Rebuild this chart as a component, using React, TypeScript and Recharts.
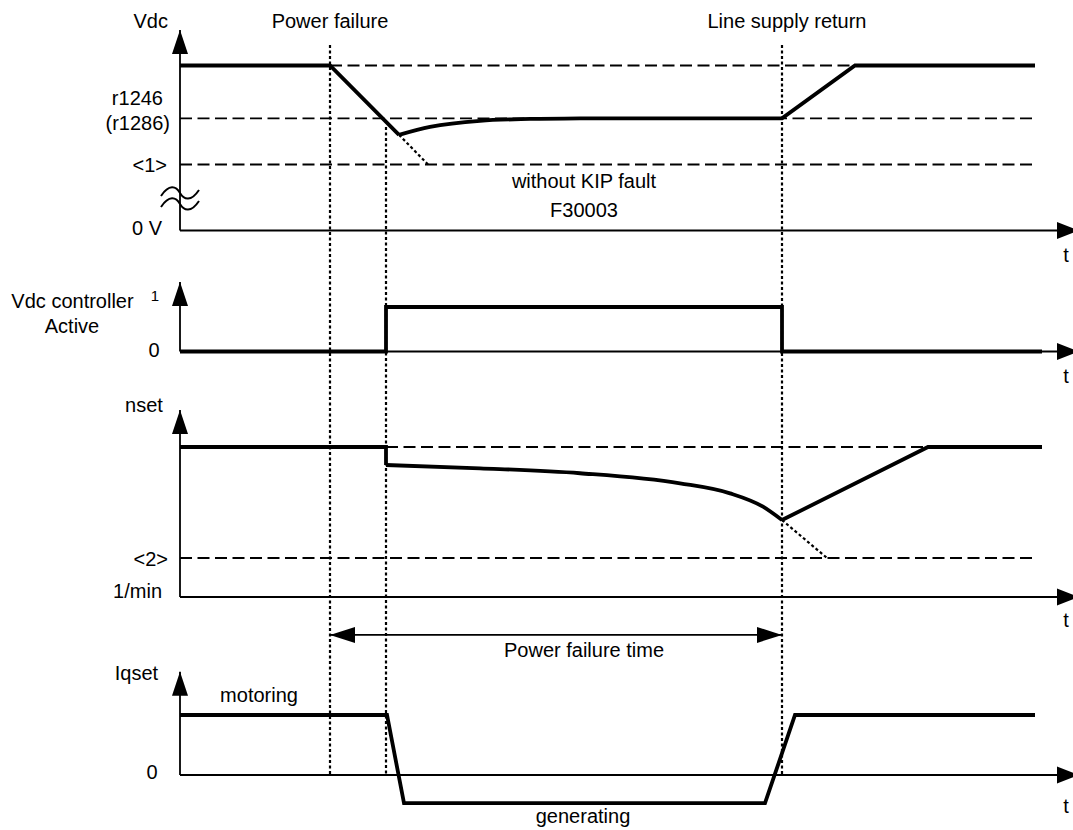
import React from 'react';
import { ComposedChart, Line, XAxis, YAxis, ReferenceLine, ReferenceDot } from 'recharts';

const WIDTH = 1073;
const HEIGHT = 830;
const FONT = '"Liberation Sans", Arial, Helvetica, sans-serif';

// ---------- time marks (schematic seconds) ----------
const T_FAIL = 1.5; // power failure
const T_CTRL = 2.06; // Vdc controller switches on
const T_RETURN = 6.02; // line supply return
const T_AXIS_END = 8.77; // start of the time-axis arrowheads
const X_DOMAIN: [number, number] = [-1.8, 8.93];

// ---------- panel 1: Vdc (% of nominal) ----------
const vdcFall = [
  { t: 0, v: 100 },
  { t: 1.5, v: 100 },
  { t: 2.19, v: 58 },
];
const vdcRecovery = [
  { t: 2.19, v: 58 },
  { t: 2.5, v: 62.8 },
  { t: 3.0, v: 66.5 },
  { t: 3.5, v: 67.6 },
  { t: 4.0, v: 68 },
];
const vdcReturn = [
  { t: 4.0, v: 68 },
  { t: 6.02, v: 68 },
  { t: 6.75, v: 100 },
  { t: 8.55, v: 100 },
];
const vdcWithoutKip = [
  { t: 2.19, v: 58 },
  { t: 2.48, v: 40 },
];
const vdcNominalLevel = [
  { t: 1.5, v: 100 },
  { t: 6.75, v: 100 },
];
const vdcR1246Level = [
  { t: 0, v: 68 },
  { t: 8.53, v: 68 },
];
const vdcLimit1Level = [
  { t: 0, v: 40 },
  { t: 8.53, v: 40 },
];

// ---------- panel 2: Vdc controller active (0/1) ----------
const ctrlActive = [
  { t: 0, v: 0 },
  { t: 2.06, v: 0 },
  { t: 2.06, v: 1 },
  { t: 6.02, v: 1 },
  { t: 6.02, v: 0 },
  { t: 8.62, v: 0 },
];

// ---------- panel 3: nset (% of setpoint) ----------
const nsetHold = [
  { t: 0, v: 100 },
  { t: 2.06, v: 100 },
  { t: 2.06, v: 88 },
];
const nsetDecay = [
  { t: 2.06, v: 88 },
  { t: 3.0, v: 85.8 },
  { t: 4.0, v: 82.5 },
  { t: 5.0, v: 75.8 },
  { t: 5.5, v: 69.1 },
  { t: 5.83, v: 60.2 },
  { t: 6.02, v: 51.3 },
];
const nsetRamp = [
  { t: 6.02, v: 51.3 },
  { t: 7.48, v: 100 },
  { t: 8.62, v: 100 },
];
const nsetWithoutKip = [
  { t: 6.02, v: 51.3 },
  { t: 6.47, v: 26 },
];
const nsetSetpointLevel = [
  { t: 2.06, v: 100 },
  { t: 7.48, v: 100 },
];
const nsetLimit2Level = [
  { t: 0, v: 26 },
  { t: 8.53, v: 26 },
];

// ---------- panel 4: Iqset (motoring = 1) ----------
const iqSet = [
  { t: 0, v: 1 },
  { t: 2.07, v: 1 },
  { t: 2.24, v: -0.47 },
  { t: 5.85, v: -0.47 },
  { t: 6.15, v: 1 },
  { t: 8.55, v: 1 },
];

// ---------- texts ----------
const EVENT_LABELS = ['Power failure', 'Line supply return'];
const VDC_LABELS = ['Vdc', 'r1246', '(r1286)', '<1>', '0 V'];
const VDC_NOTE = ['without KIP fault', 'F30003'];
const CTRL_LABELS = ['Vdc controller', 'Active', '1', '0'];
const NSET_LABELS = ['nset', '<2>', '1/min'];
const SPAN_LABEL = 'Power failure time';
const IQ_LABELS = ['Iqset', 'motoring', '0', 'generating'];
const TIME_LABEL = 't';

// ---------- layout (pixel baseline & pixels per unit of each panel) ----------
type PanelKey = 'vdc' | 'ctrl' | 'nset' | 'iq';
const PANELS: Record<PanelKey, { zero: number; unit: number; top: number }> = {
  vdc: { zero: 230.5, unit: 1.65, top: 121.5 },
  ctrl: { zero: 351.5, unit: 44.5, top: 1.56 },
  nset: { zero: 597, unit: 1.5, top: 124.7 },
  iq: { zero: 775, unit: 60, top: 1.72 },
};
const PANEL_KEYS: PanelKey[] = ['vdc', 'ctrl', 'nset', 'iq'];
const domainOf = (k: PanelKey): [number, number] => [
  (PANELS[k].zero - HEIGHT) / PANELS[k].unit,
  PANELS[k].zero / PANELS[k].unit,
];
const convert = (from: PanelKey, v: number, to: PanelKey) =>
  (PANELS[to].zero - (PANELS[from].zero - v * PANELS[from].unit)) / PANELS[to].unit;

type Note = { text: string; axis: PanelKey; t: number; v: number; anchor: 'start' | 'middle' | 'end'; size?: number };
const NOTES: Note[] = [
  { text: VDC_LABELS[0], axis: 'vdc', t: -0.12, v: 122.7, anchor: 'end' },
  { text: EVENT_LABELS[0], axis: 'vdc', t: 1.5, v: 122.7, anchor: 'middle' },
  { text: EVENT_LABELS[1], axis: 'vdc', t: 6.07, v: 122.7, anchor: 'middle' },
  { text: VDC_LABELS[1], axis: 'vdc', t: -0.17, v: 76.1, anchor: 'end' },
  { text: VDC_LABELS[2], axis: 'vdc', t: -0.1, v: 60.9, anchor: 'end' },
  { text: VDC_LABELS[3], axis: 'vdc', t: -0.13, v: 35.5, anchor: 'end' },
  { text: VDC_LABELS[4], axis: 'vdc', t: -0.18, v: -2.7, anchor: 'end' },
  { text: VDC_NOTE[0], axis: 'vdc', t: 4.04, v: 25.8, anchor: 'middle' },
  { text: VDC_NOTE[1], axis: 'vdc', t: 4.04, v: 8.2, anchor: 'middle' },
  { text: TIME_LABEL, axis: 'vdc', t: 8.86, v: -19.1, anchor: 'middle' },

  { text: CTRL_LABELS[0], axis: 'ctrl', t: -1.075, v: 0.98, anchor: 'middle' },
  { text: CTRL_LABELS[1], axis: 'ctrl', t: -1.08, v: 0.42, anchor: 'middle' },
  { text: CTRL_LABELS[2], axis: 'ctrl', t: -0.25, v: 1.13, anchor: 'middle', size: 15 },
  { text: CTRL_LABELS[3], axis: 'ctrl', t: -0.26, v: -0.12, anchor: 'middle' },
  { text: TIME_LABEL, axis: 'ctrl', t: 8.86, v: -0.71, anchor: 'middle' },

  { text: NSET_LABELS[0], axis: 'nset', t: -0.36, v: 123.3, anchor: 'middle' },
  { text: NSET_LABELS[1], axis: 'nset', t: -0.12, v: 20.7, anchor: 'end' },
  { text: NSET_LABELS[2], axis: 'nset', t: -0.18, v: -0.7, anchor: 'end' },
  { text: SPAN_LABEL, axis: 'nset', t: 4.04, v: -40, anchor: 'middle' },
  { text: TIME_LABEL, axis: 'nset', t: 8.86, v: -20, anchor: 'middle' },

  { text: IQ_LABELS[0], axis: 'iq', t: -0.435, v: 1.58, anchor: 'middle' },
  { text: IQ_LABELS[1], axis: 'iq', t: 0.79, v: 1.22, anchor: 'middle' },
  { text: IQ_LABELS[2], axis: 'iq', t: -0.28, v: -0.06, anchor: 'middle' },
  { text: IQ_LABELS[3], axis: 'iq', t: 4.03, v: -0.8, anchor: 'middle' },
  { text: TIME_LABEL, axis: 'iq', t: 8.86, v: -0.63, anchor: 'middle' },
];

const THICK = 3.8;
const THIN = 1.8;
const DASH = '12 5.5';
const DOTS = '3 2.5';

const upArrow = (p: any) => (
  <polygon points={`${p.cx},${p.cy} ${p.cx - 8},${p.cy + 24} ${p.cx + 8},${p.cy + 24}`} fill="#000" />
);
const rightArrowFromBase = (p: any) => (
  <polygon points={`${p.cx},${p.cy - 8.5} ${p.cx + 22},${p.cy} ${p.cx},${p.cy + 8.5}`} fill="#000" />
);
const leftTip = (p: any) => (
  <polygon points={`${p.cx},${p.cy} ${p.cx + 25},${p.cy - 8} ${p.cx + 25},${p.cy + 8}`} fill="#000" />
);
const rightTip = (p: any) => (
  <polygon points={`${p.cx},${p.cy} ${p.cx - 25},${p.cy - 8} ${p.cx - 25},${p.cy + 8}`} fill="#000" />
);
const breakMark = (p: any) => {
  const wave = (cy: number) =>
    `M ${p.cx - 19} ${cy + 3} C ${p.cx - 11} ${cy - 9}, ${p.cx - 4} ${cy - 7}, ${p.cx} ${cy} S ${p.cx + 11} ${cy + 9}, ${p.cx + 19} ${cy - 3}`;
  return (
    <g fill="none" stroke="#000" strokeWidth={2}>
      <path d={wave(p.cy - 5.5)} />
      <path d={wave(p.cy + 5.5)} />
    </g>
  );
};
const textShape = (n: Note) => (p: any) => (
  <text
    x={p.cx}
    y={p.cy}
    textAnchor={n.anchor}
    fontFamily={FONT}
    fontSize={n.size ?? 20}
    fill="#000"
  >
    {n.text}
  </text>
);

const lineProps = {
  type: 'linear' as const,
  dataKey: 'v',
  stroke: '#000',
  dot: false,
  activeDot: false,
  isAnimationActive: false,
  legendType: 'none' as const,
};

export default function App() {
  return (
    <div style={{ position: 'absolute', left: 0, top: 0, width: WIDTH, height: HEIGHT, background: '#fff' }}>
      <ComposedChart width={WIDTH} height={HEIGHT} margin={{ top: 0, right: 0, bottom: 0, left: 0 }}>
        <XAxis type="number" dataKey="t" domain={X_DOMAIN} allowDataOverflow hide />
        {PANEL_KEYS.map((k) => (
          <YAxis key={k} yAxisId={k} type="number" domain={domainOf(k)} allowDataOverflow hide />
        ))}

        {/* axes */}
        {PANEL_KEYS.map((k) => (
          <ReferenceLine
            key={`ya-${k}`}
            yAxisId={k}
            segment={[{ x: 0, y: 0 }, { x: 0, y: PANELS[k].top }]}
            stroke="#000"
            strokeWidth={THIN}
          />
        ))}
        {PANEL_KEYS.map((k) => (
          <ReferenceLine
            key={`xa-${k}`}
            yAxisId={k}
            segment={[{ x: 0, y: 0 }, { x: T_AXIS_END, y: 0 }]}
            stroke="#000"
            strokeWidth={THIN}
          />
        ))}
        {PANEL_KEYS.map((k) => (
          <ReferenceDot key={`yh-${k}`} yAxisId={k} x={0} y={PANELS[k].top} r={0} shape={upArrow} />
        ))}
        {PANEL_KEYS.map((k) => (
          <ReferenceDot key={`xh-${k}`} yAxisId={k} x={T_AXIS_END} y={0} r={0} shape={rightArrowFromBase} />
        ))}
        <ReferenceDot yAxisId="vdc" x={0} y={19.4} r={0} shape={breakMark} />

        {/* event markers */}
        <ReferenceLine
          yAxisId="iq"
          segment={[{ x: T_FAIL, y: convert('vdc', 112.4, 'iq') }, { x: T_FAIL, y: 0 }]}
          stroke="#000"
          strokeWidth={2.2}
          strokeDasharray={DOTS}
        />
        <ReferenceLine
          yAxisId="iq"
          segment={[{ x: T_CTRL, y: convert('vdc', 62.7, 'iq') }, { x: T_CTRL, y: 0 }]}
          stroke="#000"
          strokeWidth={2.2}
          strokeDasharray={DOTS}
        />
        <ReferenceLine
          yAxisId="iq"
          segment={[{ x: T_RETURN, y: convert('vdc', 112.4, 'iq') }, { x: T_RETURN, y: 0 }]}
          stroke="#000"
          strokeWidth={2.2}
          strokeDasharray={DOTS}
        />

        {/* power failure time span */}
        <ReferenceLine
          yAxisId="nset"
          segment={[{ x: T_FAIL, y: -25.3 }, { x: T_RETURN, y: -25.3 }]}
          stroke="#000"
          strokeWidth={THIN}
        />
        <ReferenceDot yAxisId="nset" x={T_FAIL} y={-25.3} r={0} shape={leftTip} />
        <ReferenceDot yAxisId="nset" x={T_RETURN} y={-25.3} r={0} shape={rightTip} />

        {/* Vdc */}
        <Line {...lineProps} yAxisId="vdc" data={vdcNominalLevel} strokeWidth={THIN} strokeDasharray={DASH} />
        <Line {...lineProps} yAxisId="vdc" data={vdcR1246Level} strokeWidth={THIN} strokeDasharray={DASH} />
        <Line {...lineProps} yAxisId="vdc" data={vdcLimit1Level} strokeWidth={THIN} strokeDasharray={DASH} />
        <Line {...lineProps} yAxisId="vdc" data={vdcWithoutKip} strokeWidth={2.2} strokeDasharray={DOTS} />
        <Line {...lineProps} yAxisId="vdc" data={vdcFall} strokeWidth={THICK} />
        <Line {...lineProps} yAxisId="vdc" type="monotone" data={vdcRecovery} strokeWidth={THICK} />
        <Line {...lineProps} yAxisId="vdc" data={vdcReturn} strokeWidth={THICK} />

        {/* Vdc controller */}
        <Line {...lineProps} yAxisId="ctrl" data={ctrlActive} strokeWidth={THICK} />

        {/* nset */}
        <Line {...lineProps} yAxisId="nset" data={nsetSetpointLevel} strokeWidth={THIN} strokeDasharray={DASH} />
        <Line {...lineProps} yAxisId="nset" data={nsetLimit2Level} strokeWidth={THIN} strokeDasharray={DASH} />
        <Line {...lineProps} yAxisId="nset" data={nsetWithoutKip} strokeWidth={2.2} strokeDasharray={DOTS} />
        <Line {...lineProps} yAxisId="nset" data={nsetHold} strokeWidth={THICK} />
        <Line {...lineProps} yAxisId="nset" type="monotone" data={nsetDecay} strokeWidth={THICK} />
        <Line {...lineProps} yAxisId="nset" data={nsetRamp} strokeWidth={THICK} />

        {/* Iqset */}
        <Line {...lineProps} yAxisId="iq" data={iqSet} strokeWidth={THICK} />

        {/* texts */}
        {NOTES.map((n, i) => (
          <ReferenceDot key={`n-${i}`} yAxisId={n.axis} x={n.t} y={n.v} r={0} shape={textShape(n)} />
        ))}
      </ComposedChart>
    </div>
  );
}
